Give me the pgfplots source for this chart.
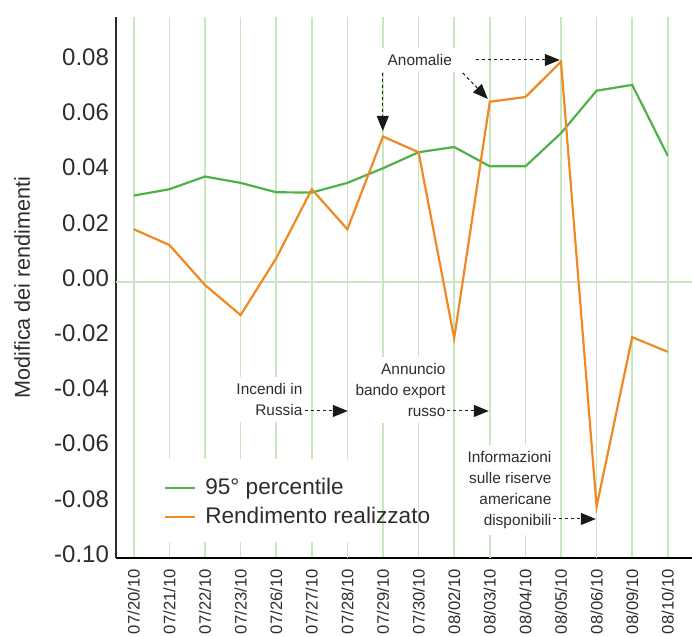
\documentclass[border=0pt]{standalone}
\usepackage{fontspec}
\setmainfont{Liberation Sans}
\usepackage{pgfplots}
\pgfplotsset{compat=1.18}
\usetikzlibrary{arrows.meta}
\definecolor{pgreen}{RGB}{78,178,72}
\definecolor{porange}{RGB}{240,137,36}
\definecolor{gridlight}{RGB}{200,230,192}
\definecolor{griddark}{RGB}{95,188,85}
\definecolor{txt}{RGB}{45,45,45}
\begin{document}
\begin{tikzpicture}
\begin{axis}[
  scale only axis, width=288pt, height=270.5pt,
  xmin=-0.5, xmax=15.68, ymin=-0.1, ymax=0.096,
  axis x line*=bottom, axis y line*=left,
  x axis line style={black, line width=0.8pt},
  y axis line style={txt, line width=0.6pt},
  major tick length=0pt, tick style={draw=none},
  xtick={0,...,15},
  xticklabels={07/20/10,07/21/10,07/22/10,07/23/10,07/26/10,07/27/10,07/28/10,07/29/10,07/30/10,08/02/10,08/03/10,08/04/10,08/05/10,08/06/10,08/09/10,08/10/10},
  xticklabel style={rotate=90, anchor=east, inner xsep=5.5pt, font=\fontsize{8.3}{10}\selectfont, text=txt},
  ytick={-0.1,-0.08,-0.06,-0.04,-0.02,0,0.02,0.04,0.06,0.08},
  yticklabels={-0.10,-0.08,-0.06,-0.04,-0.02,0.00,0.02,0.04,0.06,0.08},
  yticklabel style={font=\fontsize{12}{14}\selectfont, text=txt, yshift=2pt},
  xmajorgrids,
  major x grid style={gridlight, line width=0.8pt},
  extra x ticks={6,10,13}, extra x tick labels={},
  extra x tick style={grid=major, major grid style={griddark, line width=0.6pt}},
  extra y ticks={0}, extra y tick labels={},
  extra y tick style={grid=major, major grid style={gridlight, line width=0.8pt}},
  ylabel={Modifica dei rendimenti},
  ylabel style={at={(axis description cs:-0.163,0.5)}, anchor=center, font=\fontsize{10.8}{12}\selectfont, text=txt},
  legend image code/.code={\draw[#1] (0pt,0pt) -- (15pt,0pt);},
  legend cell align=left,
  legend style={draw=none, fill=none, at={(axis cs:0.84,-0.0799)}, anchor=west,
    inner sep=0pt, column sep=4pt, row sep=2.5pt,
    nodes={inner sep=0.5pt, text height=8.5pt, text depth=2.5pt, text=txt},
    font=\fontsize{11.3}{13}\selectfont},
]
\fill[white] (axis cs:0.449,-0.06413) rectangle (axis cs:6.49,-0.09420);
\addplot[pgreen, line width=1.1pt] coordinates {
 (0,0.0313) (1,0.0336) (2,0.0382) (3,0.0359) (4,0.0325) (5,0.0324) (6,0.0359) (7,0.0412)
 (8,0.0470) (9,0.0489) (10,0.0419) (11,0.0419) (12,0.0539) (13,0.0693) (14,0.0714) (15,0.0457)};
\addlegendentry{95° percentile}
\addplot[porange, line width=1.1pt] coordinates {
 (0,0.0191) (1,0.0134) (2,-0.0011) (3,-0.0120) (4,0.0086) (5,0.0336) (6,0.0191) (7,0.0527)
 (8,0.0470) (9,-0.0204) (10,0.0653) (11,0.0670) (12,0.0798) (13,-0.0814) (14,-0.0200) (15,-0.0253)};
\addlegendentry{Rendimento realizzato}
% annotations
\tikzset{ann/.style={fill=white, inner sep=3pt, align=right, text=txt, font=\fontsize{7.7}{10.5}\selectfont},
         darr/.style={black!90, line width=0.5pt, dash pattern=on 1.6pt off 1.4pt, -{Triangle[length=7.5pt,width=6pt]}}}
\node[ann, anchor=north east] at (axis cs:4.916,-0.03442) {Incendi in\\Russia};
\node[ann, anchor=north east] at (axis cs:8.933,-0.02717) {Annuncio\\bando export\\russo};
\node[ann, anchor=north east] at (axis cs:11.910,-0.05906) {Informazioni\\sulle riserve\\americane\\disponibili};
\node[ann, inner xsep=5pt, anchor=center] at (axis cs:8.034,0.08043) {Anomalie};
\draw[darr] (axis cs:4.803,-0.04674) -- (axis cs:6.011,-0.04674);
\draw[darr] (axis cs:8.792,-0.04674) -- (axis cs:9.972,-0.04674);
\draw[darr] (axis cs:11.770,-0.08587) -- (axis cs:12.978,-0.08587);
\draw[darr] (axis cs:6.994,0.07572) -- (axis cs:6.994,0.05471);
\draw[darr] (axis cs:9.242,0.07572) -- (axis cs:9.944,0.06630);
\draw[darr] (axis cs:9.607,0.08043) -- (axis cs:11.966,0.08043);
\end{axis}
\pgfresetboundingbox
\path[use as bounding box] (-58pt,-39.5pt) rectangle (288pt,279pt);
\end{tikzpicture}
\end{document}
